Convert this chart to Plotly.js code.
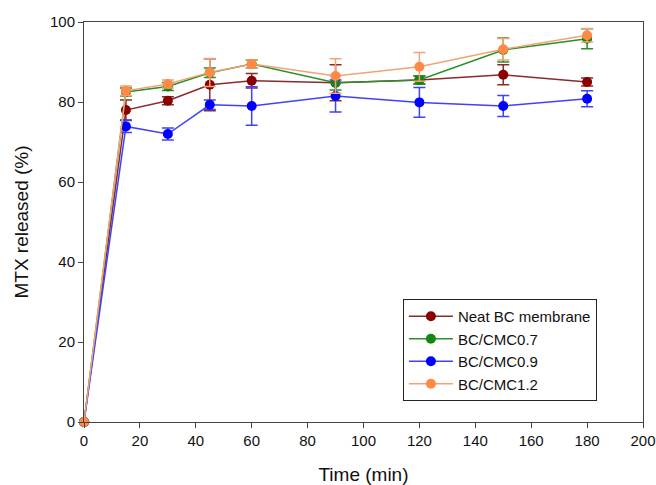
<!DOCTYPE html>
<html><head><meta charset="utf-8">
<script src="https://cdn.plot.ly/plotly-3.0.1.min.js"></script>
<style>body{margin:0;padding:0;background:#fff}#chart{width:656px;height:485px}</style>
</head><body><div id="chart"></div>
<script>
const time = [0, 15, 30, 45, 60, 90, 120, 150, 180];
const seriesNames = ["Neat BC membrane", "BC/CMC0.7", "BC/CMC0.9", "BC/CMC1.2"];
const neatBC = [0, 78.0, 80.3, 84.3, 85.3, 84.8, 85.5, 86.8, 85.0];
const neatBCErr = [0, 2.5, 1.0, 6.5, 1.8, 4.5, 1.0, 2.5, 1.0];
const cmc07 = [0, 82.5, 83.9, 87.3, 89.5, 84.8, 85.5, 93.0, 95.8];
const cmc07Err = [0, 1.0, 1.0, 1.2, 1.0, 1.8, 1.0, 3.0, 2.5];
const cmc09 = [0, 73.9, 72.0, 79.3, 79.0, 81.5, 79.9, 79.0, 80.8];
const cmc09Err = [0, 1.5, 1.5, 1.2, 4.8, 4.0, 3.7, 2.6, 2.0];
const cmc12 = [0, 82.8, 84.5, 87.4, 89.5, 86.5, 88.8, 93.2, 96.7];
const cmc12Err = [0, 1.2, 1.0, 3.5, 1.0, 4.3, 3.6, 2.7, 1.7];

const colors = ["#8b0000", "#118811", "#0000ff", "#ff8a45"];
const lineColors = ["#8b2a2a", "#2a8f2a", "#4040ff", "#f4a274"];
const ys = [neatBC, cmc07, cmc09, cmc12];
const errs = [neatBCErr, cmc07Err, cmc09Err, cmc12Err];

const traces = ys.map((y, i) => ({
  x: time, y: y, name: seriesNames[i], type: "scatter", mode: "lines+markers",
  line: {color: lineColors[i], width: 1.5},
  marker: {color: colors[i], size: 10},
  error_y: {type: "data", array: errs[i], visible: true, color: lineColors[i], thickness: 1.5, width: 6},
  cliponaxis: false
}));

const layout = {
  width: 656, height: 485,
  margin: {l: 84, r: 13, t: 22, b: 63},
  paper_bgcolor: "#fff", plot_bgcolor: "#fff",
  font: {family: "Liberation Sans, Arial, sans-serif", size: 15, color: "#111"},
  showlegend: true,
  legend: {x: 0.5705, y: 0.3075, xanchor: "left", yanchor: "top", bordercolor: "#222", borderwidth: 1,
    bgcolor: "#fff", font: {size: 15, color: "#111"}, tracegroupgap: 0, itemwidth: 44},
  xaxis: {range: [0, 200], tickvals: [0,20,40,60,80,100,120,140,160,180,200], showgrid: false, zeroline: false,
    showline: true, mirror: true, linecolor: "#444", linewidth: 1, ticks: "outside", ticklen: 5, tickcolor: "#444",
    tickfont: {size: 15},
    title: {text: "Time (min)", font: {size: 19}, standoff: 26}},
  yaxis: {range: [0, 100], tickvals: [0,20,40,60,80,100], showgrid: false, zeroline: false,
    showline: true, mirror: true, linecolor: "#444", linewidth: 1, ticks: "outside", ticklen: 5, tickcolor: "#444",
    tickfont: {size: 15},
    title: {text: "MTX released (%)", font: {size: 19}, standoff: 16}}
};
Plotly.newPlot("chart", traces, layout, {displayModeBar: false});
</script></body></html>
